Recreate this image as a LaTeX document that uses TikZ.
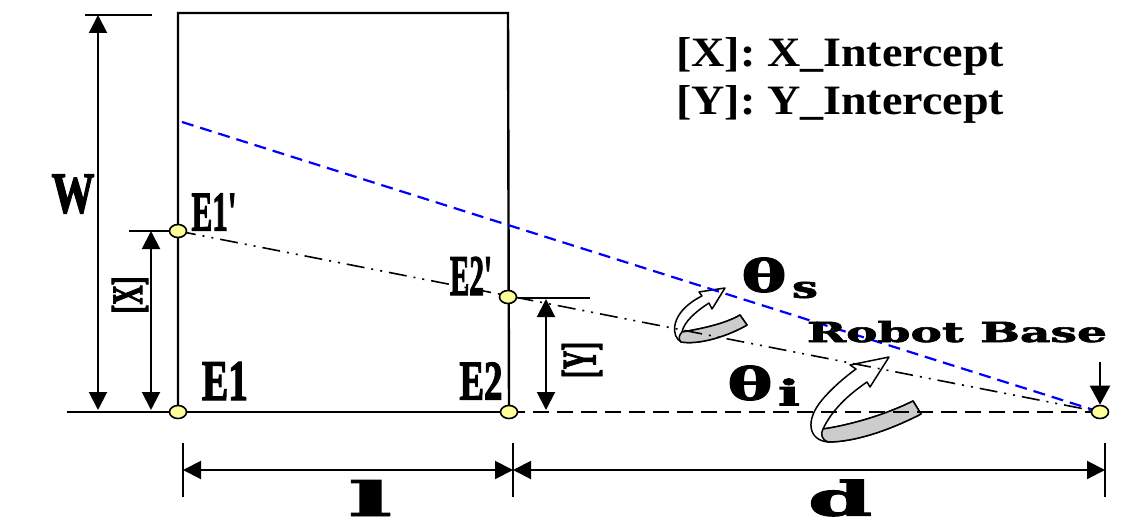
\documentclass[tikz,border=0pt]{standalone}
\usepackage{fontspec}
\setmainfont{Liberation Serif}
\newfontfamily\heavyserif[FakeBold=2.5]{Liberation Serif Bold}
\newfontfamily\wideheavy[FakeBold=2]{DejaVu Serif Bold}
\usepackage{graphicx}
\usetikzlibrary{arrows.meta,shapes.geometric}
\definecolor{ptyellow}{HTML}{FFFF99}
\definecolor{bandgray}{HTML}{CCCCCC}
\definecolor{sightblue}{HTML}{0000FF}
\tikzset{
  pt/.style={ellipse, draw=black, line width=1.6pt, fill=ptyellow, minimum width=17pt, minimum height=13pt, inner sep=0pt},
  frame/.style={line width=2.4pt},
  extline/.style={line width=2pt},
  dimline/.style={line width=2pt, {Triangle[length=18pt,width=18pt]}-{Triangle[length=18pt,width=18pt]}},
  lbl/.style={inner sep=0pt, font=\heavyserif},
  widelbl/.style={inner sep=0pt, font=\wideheavy},
  leglbl/.style={inner sep=0pt, font=\bfseries},
  dashdotdot/.style={line width=1.6pt, dash pattern=on 18pt off 7pt on 2pt off 7pt on 2pt off 7pt},
  sightline/.style={line width=2.2pt, sightblue, dash pattern=on 12pt off 7pt},
  groundline/.style={line width=2pt, dash pattern=on 16pt off 8pt},
  ribbon/.style={draw=black, line width=1.5pt, fill=white, line join=round},
  band/.style={draw=black, line width=1.5pt, fill=bandgray, line join=round}
}
\begin{document}
\begin{tikzpicture}[x=1pt,y=-1pt]
\useasboundingbox (0,0) rectangle (1145,524);

% ---------- coordinates ----------
\coordinate (TL) at (178,13);
\coordinate (TR) at (508,13);
\coordinate (Lend) at (67,412);
\coordinate (Wtop) at (98,15);
\coordinate (Wbot) at (98,410);
\coordinate (Wext1) at (85,15);
\coordinate (Wext2) at (152,15);
\coordinate (Xtop) at (151,231);
\coordinate (Xbot) at (151,410);
\coordinate (Xext) at (129,231);
\coordinate (Ytop) at (546,299);
\coordinate (Ybot) at (546,410);
\coordinate (Yext1) at (518,298);
\coordinate (Yext2) at (590,298);
\coordinate (Bl) at (183,470);
\coordinate (Bm) at (513,470);
\coordinate (Br) at (1105,470);
\coordinate (Bl1) at (183,443);
\coordinate (Bl2) at (183,497);
\coordinate (Bm1) at (513,443);
\coordinate (Bm2) at (513,497);
\coordinate (Br1) at (1105,443);
\coordinate (Br2) at (1105,497);
\coordinate (blue0) at (182,122);
\coordinate (rbtop) at (1100,362);
\coordinate (pE1) at (178,412);
\coordinate (pE1p) at (178,231);
\coordinate (pE2p) at (508,297);
\coordinate (pE2) at (509,412);
\coordinate (pBase) at (1100,412);

% ---------- curved arrows ----------
% theta_s
\draw[ribbon] (699,292) -- (725,288) -- (712,309) -- (709,303)
  .. controls (695,312) and (684,322) .. (682,332)
  .. controls (700,329) and (725,324) .. (740,315)
  -- (747,325)
  .. controls (728,336) and (700,345) .. (681,342)
  .. controls (671,336) and (672,318) .. (688,305)
  .. controls (694,300) and (698,298) .. (702,296) -- cycle;
\draw[band] (682,332) .. controls (700,329) and (725,324) .. (740,315)
  -- (747,325) .. controls (728,336) and (700,345) .. (681,342)
  .. controls (678,339) and (679,335) .. (682,332) -- cycle;
% theta_i
\draw[ribbon] (850,365) -- (889,357) -- (870,387) -- (867,382)
  .. controls (848,395) and (832,410) .. (823,429)
  .. controls (850,425) and (885,415) .. (913,401)
  -- (921,414)
  .. controls (890,430) and (855,442) .. (828,442)
  .. controls (808,440) and (805,420) .. (822,400)
  .. controls (832,388) and (845,377) .. (856,369) -- cycle;
\draw[band] (823,429) .. controls (850,425) and (885,415) .. (913,401)
  -- (921,414) .. controls (890,430) and (855,442) .. (828,442)
  .. controls (822,440) and (820,434) .. (823,429) -- cycle;

% ---------- lines ----------
\draw[frame] (pE1) -- (TL) -- (TR) -- (pE2);
\draw[frame] (Lend) -- (pE1) -- (pE2);
\draw[groundline] (pE2) -- (pBase);
\draw[dashdotdot] (pE1p) -- (pBase);
\draw[sightline] (blue0) -- (pBase);

% dimensions
\draw[extline] (Wext1) -- (Wext2);
\draw[dimline] (Wtop) -- (Wbot);
\draw[extline] (Xext) -- (pE1p);
\draw[dimline] (Xtop) -- (Xbot);
\draw[extline] (Yext1) -- (Yext2);
\draw[dimline] (Ytop) -- (Ybot);
\draw[extline] (Bl1) -- (Bl2);
\draw[extline] (Bm1) -- (Bm2);
\draw[extline] (Br1) -- (Br2);
\draw[dimline] (Bl) -- (Bm);
\draw[dimline] (Bm) -- (Br);

% ---------- points ----------
\node[pt] (E1) at (pE1) {};
\node[pt] (E1p) at (pE1p) {};
\node[pt] (E2p) at (pE2p) {};
\node[pt] (E2) at (pE2) {};
\node[pt] (base) at (pBase) {};
\draw[line width=2pt, -{Triangle[length=19pt,width=20pt]}] (rbtop) -- (base.north);

% ---------- labels ----------
\node[lbl] (Wl) at (73,194) {\resizebox{43pt}{38pt}{W}};
\node[lbl] (E1l) at (225,381) {\resizebox{46pt}{38pt}{E1}};
\node[lbl] (E1pl) at (214,212) {\resizebox{45pt}{37pt}{E1\char"27}};
\node[lbl] (E2l) at (481,381) {\resizebox{43pt}{37pt}{E2}};
\node[lbl] (E2pl) at (471,276) {\resizebox{42pt}{38pt}{E2\char"27}};
\node[lbl, rotate=90] (Xl) at (130,295) {\resizebox*{37pt}{36pt}{[X]}};
\node[lbl, rotate=90] (Yl) at (582,360) {\resizebox*{36pt}{40pt}{[Y]}};

\node[leglbl, anchor=base west] (legX) at (676,67) {\resizebox{328pt}{29pt}{[X]: X\_Intercept}};
\node[leglbl, anchor=base west] (legY) at (676,115) {\resizebox{328pt}{29pt}{[Y]: Y\_Intercept}};

\node[widelbl] (ths) at (764,275) {\resizebox*{45pt}{35pt}{θ}};
\node[widelbl] (thss) at (805,290) {\resizebox{26pt}{16pt}{s}};
\node[widelbl] (thi) at (750,383) {\resizebox*{45pt}{35pt}{θ}};
\node[widelbl] (thii) at (789,392) {\resizebox{22pt}{27pt}{i}};
\node[widelbl, anchor=base] (rb) at (957,342) {\resizebox{300pt}{21pt}{Robot Base}};

\node[widelbl] (ll) at (370,498) {\resizebox{44pt}{36pt}{l}};
\node[widelbl] (dl) at (840,498) {\resizebox{64pt}{36pt}{d}};
\end{tikzpicture}
\end{document}
